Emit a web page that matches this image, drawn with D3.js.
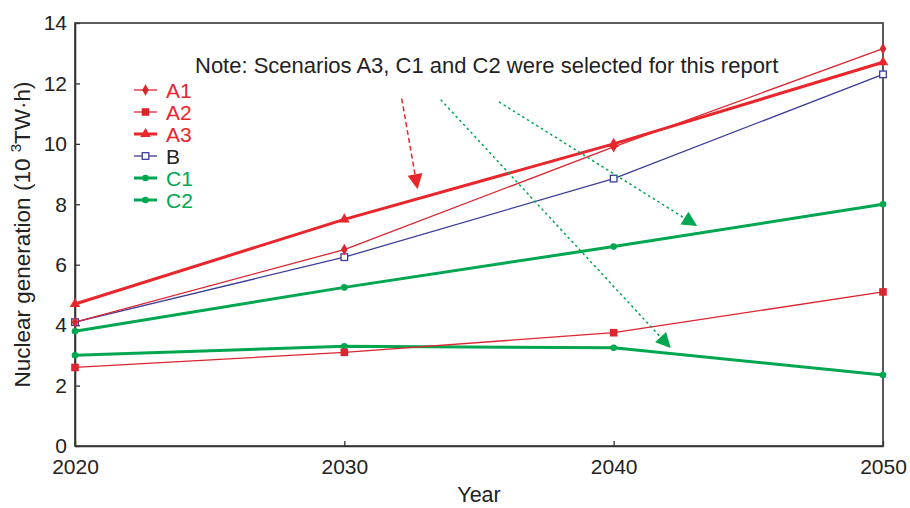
<!DOCTYPE html>
<html>
<head>
<meta charset="utf-8">
<script src="https://cdn.jsdelivr.net/npm/d3@7"></script>
<style>
  html, body { margin: 0; padding: 0; background: #fff; }
  svg { display: block; }
  svg text { font-family: Arial, Helvetica, "Liberation Sans", sans-serif; }
</style>
</head>
<body>
<svg id="chart" width="910" height="508"></svg>
<script>
// Nuclear generation by scenario, 10^3 TW·h
const years = [2020, 2030, 2040, 2050];
const A1 = [4.1, 6.5, 9.9, 13.15];
const A2 = [2.6, 3.1, 3.75, 5.1];
const A3 = [4.7, 7.5, 10.0, 12.7];
const B  = [4.1, 6.25, 8.85, 12.3];
const C1 = [3.8, 5.25, 6.6, 8.0];
const C2 = [3.0, 3.3, 3.25, 2.35];

const seriesNames = ["A1", "A2", "A3", "B", "C1", "C2"];
const xTicks = [2020, 2030, 2040, 2050];
const yTicks = [0, 2, 4, 6, 8, 10, 12, 14];

// Annotation arrows in data units: [year, value] start -> end
const arrowRed    = [[2032.13, 11.5], [2032.72, 8.5]];
const arrowGreen1 = [[2033.58, 11.46], [2042.12, 3.24]];
const arrowGreen2 = [[2035.74, 11.39], [2043.1, 7.28]];
const noteText = "Note: Scenarios A3, C1 and C2 were selected for this report";

const RED = "#e8262c", RED_THIN = "#db2530", BLUE = "#3b3c9a", GREEN = "#00a650";

const styles = {
  A1: { color: RED_THIN, width: 1.3, marker: "diamond", fill: RED_THIN, text: RED },
  A2: { color: RED_THIN, width: 1.3, marker: "square", fill: RED_THIN, text: RED },
  A3: { color: RED, width: 3, marker: "triangle", fill: RED, text: RED },
  B:  { color: BLUE, width: 1.3, marker: "square", fill: "#fff", text: "#222" },
  C1: { color: GREEN, width: 3, marker: "circle", fill: GREEN, text: GREEN },
  C2: { color: GREEN, width: 3, marker: "circle", fill: GREEN, text: GREEN }
};
const valuesByName = { A1, A2, A3, B, C1, C2 };
const series = seriesNames.map(n => Object.assign({ name: n, values: valuesByName[n] }, styles[n]));

const svg = d3.select("#chart");
const margin = { left: 75, right: 27, top: 23, bottom: 62 };
const W = 910, H = 508;
const x = d3.scaleLinear().domain([2020, 2050]).range([margin.left, W - margin.right]);
const y = d3.scaleLinear().domain([0, 14]).range([H - margin.bottom, margin.top]);

const axisColor = "#333";

// Frame
svg.append("rect")
  .attr("x", x(2020)).attr("y", y(14))
  .attr("width", x(2050) - x(2020)).attr("height", y(0) - y(14))
  .attr("fill", "none").attr("stroke", axisColor).attr("stroke-width", 1.6);

// Axes with inward ticks
const xAxis = svg.append("g").attr("transform", `translate(0,${y(0)})`)
  .call(d3.axisBottom(x).tickValues(xTicks).tickFormat(d3.format("d")).tickSizeInner(-5).tickSizeOuter(0).tickPadding(11));
const yAxis = svg.append("g").attr("transform", `translate(${x(2020)},0)`)
  .call(d3.axisLeft(y).tickValues(yTicks).tickSizeInner(-5).tickSizeOuter(0).tickPadding(8));
[xAxis, yAxis].forEach(g => {
  g.attr("font-family", null);
  g.select(".domain").attr("stroke", axisColor).attr("stroke-width", 1.6);
  g.selectAll(".tick line").attr("stroke", axisColor).attr("stroke-width", 1.3);
  g.selectAll("text").attr("fill", "#222").style("font-size", "21px");
});
xAxis.selectAll("text").attr("dy", "0.82em");

// Axis titles
svg.append("text").attr("x", (x(2020) + x(2050)) / 2).attr("y", 502)
  .attr("text-anchor", "middle").attr("fill", "#222").style("font-size", "21.5px").text("Year");
const yt = svg.append("text")
  .attr("transform", `translate(30,${(y(0) + y(14)) / 2}) rotate(-90)`)
  .attr("text-anchor", "middle").attr("fill", "#222").style("font-size", "22.5px");
yt.append("tspan").text("Nuclear generation (10 ");
yt.append("tspan").attr("dy", -9).style("font-size", "15px").text("3");
yt.append("tspan").attr("dy", 9).text("TW\u00b7h)");

// Marker drawing helper
function drawMarker(g, kind, cx, cy, color, fill) {
  if (kind === "circle") {
    g.append("circle").attr("cx", cx).attr("cy", cy).attr("r", 3.3).attr("fill", fill);
  } else if (kind === "square" && fill === "#fff") {
    g.append("rect").attr("x", cx - 3.3).attr("y", cy - 3.3).attr("width", 6.6).attr("height", 6.6)
      .attr("fill", "#fff").attr("stroke", color).attr("stroke-width", 1.3);
  } else if (kind === "square") {
    g.append("rect").attr("x", cx - 3.8).attr("y", cy - 3.8).attr("width", 7.6).attr("height", 7.6).attr("fill", fill);
  } else if (kind === "diamond") {
    g.append("path").attr("d", d3.symbol(d3.symbolDiamond, 38)()).attr("transform", `translate(${cx},${cy})`).attr("fill", fill);
  } else if (kind === "triangle") {
    g.append("path").attr("d", d3.symbol(d3.symbolTriangle, 48)()).attr("transform", `translate(${cx},${cy})`).attr("fill", fill);
  }
}

// Series lines and markers
const line = d3.line().x((d, i) => x(years[i])).y(d => y(d));
const drawOrder = ["C2", "A2", "C1", "B", "A1", "A3"];
drawOrder.forEach(n => {
  const s = series.find(d => d.name === n);
  const g = svg.append("g");
  g.append("path").attr("d", line(s.values)).attr("fill", "none")
    .attr("stroke", s.color).attr("stroke-width", s.width).attr("stroke-linejoin", "round");
  s.values.forEach((v, i) => drawMarker(g, s.marker, x(years[i]), y(v), s.color, s.fill));
});

// Legend
const legend = svg.append("g");
series.forEach((s, i) => {
  const ly = 90 + i * 22;
  const g = legend.append("g");
  g.append("line").attr("x1", 134).attr("x2", 157).attr("y1", ly).attr("y2", ly)
    .attr("stroke", s.color).attr("stroke-width", s.width);
  drawMarker(g, s.marker, 145.5, ly, s.color, s.fill);
  g.append("text").attr("x", 166).attr("y", ly).attr("dy", "0.36em")
    .attr("fill", s.text).style("font-size", "21px").text(s.name);
});

// Note
svg.append("text").attr("x", 195).attr("y", 73).attr("fill", "#222")
  .style("font-size", "22px").text(noteText);

// Annotation arrows
function arrow(pts, color, dash, head) {
  const [p0, p1] = pts;
  const x0 = x(p0[0]), y0 = y(p0[1]), x1 = x(p1[0]), y1 = y(p1[1]);
  const ang = Math.atan2(y1 - y0, x1 - x0);
  const L = head.len, hw = head.w / 2;
  const bx = x1 - L * Math.cos(ang), by = y1 - L * Math.sin(ang);
  svg.append("line").attr("x1", x0).attr("y1", y0).attr("x2", bx).attr("y2", by)
    .attr("stroke", color).attr("stroke-width", 1.5).attr("stroke-dasharray", dash);
  const px = -Math.sin(ang), py = Math.cos(ang);
  svg.append("path")
    .attr("d", `M${x1},${y1}L${bx + px * hw},${by + py * hw}L${bx - px * hw},${by - py * hw}Z`)
    .attr("fill", color);
}
arrow(arrowRed, RED, "5,3", { len: 15, w: 15 });
arrow(arrowGreen1, GREEN, "2.5,3", { len: 15, w: 15 });
arrow(arrowGreen2, GREEN, "2.5,3", { len: 15, w: 15 });
</script>
</body>
</html>
